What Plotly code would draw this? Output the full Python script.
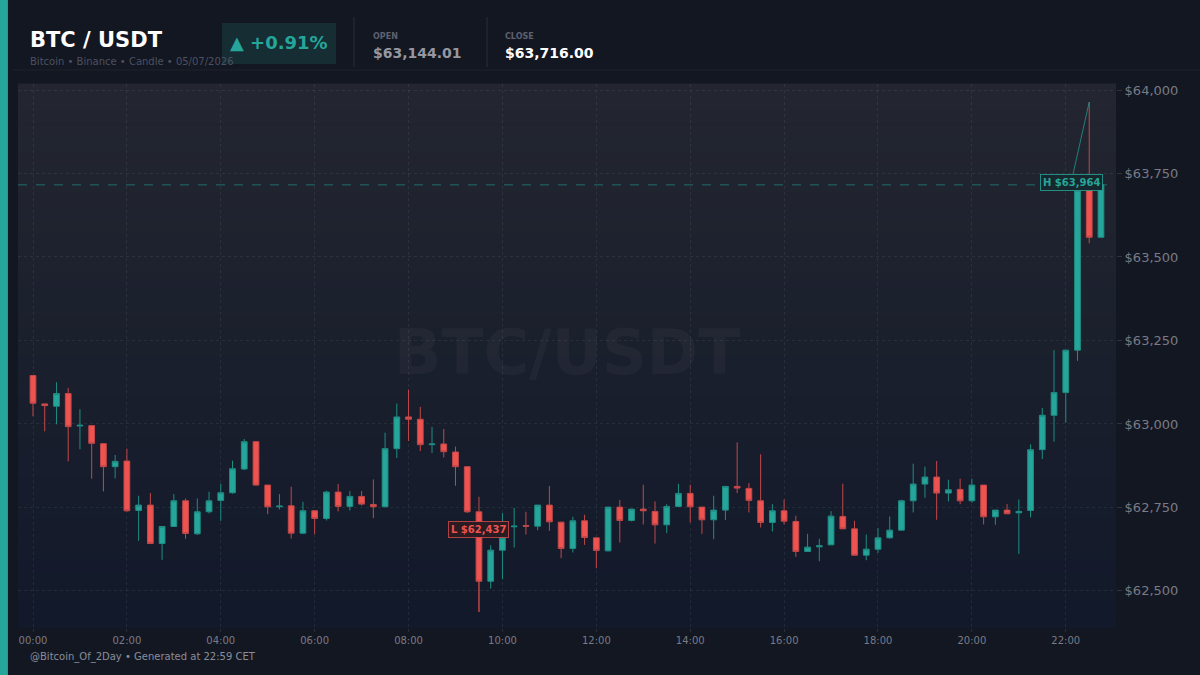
import plotly.graph_objects as go
import pandas as pd

# ---- data (15-minute candles, 05/07/2026) ----
opens = [63145, 63060, 63053, 63091, 62994, 62995, 62941, 62872, 62889, 62741, 62757, 62642,
         62693, 62770, 62671, 62737, 62771, 62794, 62865, 62947, 62817, 62752, 62755, 62673,
         62740, 62717, 62796, 62753, 62783, 62759, 62752, 62926, 63021, 63014, 62938, 62940,
         62916, 62872, 62737, 62529, 62622, 62692, 62696, 62694, 62757, 62706, 62627, 62710,
         62659, 62620, 62751, 62711, 62745, 62738, 62698, 62753, 62792, 62751, 62713, 62742,
         62813, 62807, 62770, 62705, 62740, 62708, 62618, 62632, 62638, 62723, 62686, 62607,
         62625, 62659, 62682, 62770, 62820, 62841, 62793, 62804, 62770, 62817, 62722, 62742,
         62734, 62741, 62923, 63026, 63094, 63221, 63700, 63559]
highs = [63145, 63060, 63125, 63108, 63044, 62995, 62941, 62907, 62926, 62785, 62793, 62693,
         62790, 62777, 62777, 62797, 62821, 62890, 62955, 62947, 62817, 62790, 62812, 62767,
         62740, 62800, 62820, 62799, 62799, 62834, 62974, 63061, 63103, 63051, 62991, 62985,
         62932, 62872, 62782, 62637, 62733, 62749, 62737, 62757, 62814, 62706, 62722, 62728,
         62659, 62751, 62772, 62745, 62818, 62768, 62760, 62821, 62818, 62751, 62785, 62813,
         62945, 62823, 62909, 62760, 62774, 62725, 62671, 62656, 62739, 62821, 62710, 62669,
         62688, 62723, 62773, 62881, 62872, 62889, 62833, 62836, 62836, 62817, 62742, 62760,
         62774, 62939, 63048, 63221, 63221, 63700, 63964, 63716]
lows = [63023, 62978, 62999, 62888, 62924, 62836, 62798, 62837, 62737, 62650, 62640, 62593,
        62693, 62656, 62668, 62732, 62710, 62791, 62862, 62815, 62730, 62744, 62657, 62670,
        62670, 62711, 62738, 62741, 62756, 62718, 62752, 62898, 62949, 62919, 62913, 62900,
        62815, 62733, 62437, 62507, 62535, 62630, 62669, 62682, 62680, 62598, 62615, 62638,
        62568, 62618, 62645, 62708, 62699, 62642, 62673, 62752, 62705, 62671, 62655, 62712,
        62793, 62735, 62690, 62678, 62699, 62602, 62618, 62589, 62638, 62686, 62607, 62592,
        62614, 62656, 62682, 62735, 62779, 62713, 62768, 62760, 62764, 62699, 62698, 62731,
        62611, 62720, 62895, 62947, 63004, 63189, 63541, 63559]
closes = [63062, 63055, 63091, 62992, 62996, 62942, 62872, 62888, 62740, 62757, 62642, 62693,
          62770, 62672, 62737, 62770, 62794, 62866, 62947, 62817, 62752, 62754, 62673, 62740,
          62717, 62796, 62753, 62783, 62760, 62752, 62926, 63021, 63014, 62938, 62940, 62917,
          62872, 62737, 62529, 62622, 62659, 62694, 62694, 62757, 62707, 62627, 62710, 62660,
          62621, 62751, 62711, 62745, 62740, 62698, 62753, 62792, 62752, 62713, 62742, 62813,
          62808, 62771, 62705, 62740, 62709, 62618, 62631, 62635, 62724, 62686, 62607, 62625,
          62659, 62682, 62770, 62820, 62841, 62793, 62803, 62770, 62817, 62722, 62742, 62731,
          62738, 62923, 63026, 63094, 63221, 63700, 63559, 63716]
times = pd.date_range("2026-05-07 00:00", periods=len(opens), freq="15min")

y_ticks = [62500, 62750, 63000, 63250, 63500, 63750, 64000]
y_tick_labels = ["$62,500", "$62,750", "$63,000", "$63,250", "$63,500", "$63,750", "$64,000"]
x_ticks = pd.date_range("2026-05-07 00:00", "2026-05-07 22:00", freq="2h")
x_tick_labels = [t.strftime("%H:%M") for t in x_ticks]

open_price = "$63,144.01"
close_price = "$63,716.00"
last_close = 63716.00
change_text = "▲ +0.91%"
low_val = 62437
high_val = 63964
i_low = lows.index(min(lows))
i_high = highs.index(max(highs))

UP = "#26a69a"
DN = "#ef5350"
BG = "#131722"
GRID = "rgba(255,255,255,0.07)"
MUTED = "#787b86"
FONT = "DejaVu Sans"

fig = go.Figure()
fig.add_trace(go.Candlestick(
    x=times, open=opens, high=highs, low=lows, close=closes,
    increasing=dict(line=dict(color="#1f8d83", width=1), fillcolor=UP),
    decreasing=dict(line=dict(color="#c2484a", width=1), fillcolor=DN),
    whiskerwidth=0, showlegend=False, hoverinfo="skip",
))

shapes = []
# gradient plot background
n = 40
top = (0x23, 0x26, 0x30)
bot = (0x12, 0x19, 0x2a)
for k in range(n):
    f = k / (n - 1)
    c = tuple(round(top[j] + (bot[j] - top[j]) * f) for j in range(3))
    shapes.append(dict(type="rect", xref="x domain", yref="y domain",
                       x0=0, x1=1, y0=1 - (k + 1) / n, y1=1 - k / n + 0.001,
                       fillcolor="rgb(%d,%d,%d)" % c, line=dict(width=0), layer="below"))
# left accent bar
shapes.append(dict(type="rect", xref="paper", yref="paper", x0=-0.1, x1=7 / 1200 - 18 / 1200,
                   y0=-1, y1=2, fillcolor=UP, line=dict(width=0), layer="above"))
# header divider
shapes.append(dict(type="line", xref="paper", yref="paper",
                   x0=-5 / 1098, x1=1.2, y0=1 + 14 / 544, y1=1 + 14 / 544,
                   line=dict(color="rgba(255,255,255,0.05)", width=1)))
# header separators
for xp in (354, 487):
    xx = (xp - 18) / 1098
    shapes.append(dict(type="line", xref="paper", yref="paper", x0=xx, x1=xx,
                       y0=1 + (84 - 67) / 544, y1=1 + (84 - 17) / 544,
                       line=dict(color="rgba(255,255,255,0.10)", width=1)))
# change badge
shapes.append(dict(type="rect", xref="paper", yref="paper",
                   x0=(222 - 18) / 1098, x1=(336 - 18) / 1098,
                   y0=1 + (84 - 64) / 544, y1=1 + (84 - 23) / 544,
                   fillcolor="#152d33", line=dict(width=0)))
# last close line
shapes.append(dict(type="line", xref="x domain", yref="y", x0=0, x1=1, y0=last_close, y1=last_close,
                   line=dict(color="rgba(38,166,154,0.55)", width=1, dash="dash")))
fig.update_layout(shapes=shapes)

def ptx(px):
    return (px - 18) / 1098

def pty(py):
    return 1 - (py - 84) / 544

ann = []
ann.append(dict(text="<b>BTC / USDT</b>", x=ptx(28), y=pty(40), xref="paper", yref="paper",
                xanchor="left", yanchor="middle", showarrow=False,
                font=dict(family=FONT, size=21, color="#ffffff")))
ann.append(dict(text="Bitcoin • Binance • Candle • 05/07/2026", x=ptx(28), y=pty(61),
                xref="paper", yref="paper", xanchor="left", yanchor="middle", showarrow=False,
                font=dict(family=FONT, size=10, color="#4c5160")))
ann.append(dict(text="<b>" + change_text + "</b>", x=ptx(279), y=pty(42), xref="paper", yref="paper",
                xanchor="center", yanchor="middle", showarrow=False,
                font=dict(family=FONT, size=18, color=UP)))
ann.append(dict(text="<b>OPEN</b>", x=ptx(371), y=pty(37), xref="paper", yref="paper",
                xanchor="left", yanchor="middle", showarrow=False,
                font=dict(family=FONT, size=8, color="#5d6170")))
ann.append(dict(text="<b>" + open_price + "</b>", x=ptx(371), y=pty(53), xref="paper", yref="paper",
                xanchor="left", yanchor="middle", showarrow=False,
                font=dict(family=FONT, size=14, color="#9598a1")))
ann.append(dict(text="<b>CLOSE</b>", x=ptx(503), y=pty(37), xref="paper", yref="paper",
                xanchor="left", yanchor="middle", showarrow=False,
                font=dict(family=FONT, size=8, color="#5d6170")))
ann.append(dict(text="<b>" + close_price + "</b>", x=ptx(503), y=pty(53), xref="paper", yref="paper",
                xanchor="left", yanchor="middle", showarrow=False,
                font=dict(family=FONT, size=14, color="#ffffff")))
ann.append(dict(text="@Bitcoin_Of_2Day • Generated at 22:59 CET", x=ptx(28), y=pty(657),
                xref="paper", yref="paper", xanchor="left", yanchor="middle", showarrow=False,
                font=dict(family=FONT, size=10, color="#8a8e99")))
# watermark
ann.append(dict(text="<b>BTC/USDT</b>", x=ptx(567), y=pty(352), xref="paper", yref="paper",
                xanchor="center", yanchor="middle", showarrow=False,
                font=dict(family=FONT, size=62, color="rgba(255,255,255,0.035)")))
# high / low labels
ann.append(dict(text="<b>H $%s</b>" % format(high_val, ","), x=times[i_high], y=highs[i_high],
                xref="x", yref="y", showarrow=True, arrowhead=0, arrowwidth=1,
                arrowcolor="rgba(38,166,154,0.7)", ax=-18, ay=80,
                font=dict(family=FONT, size=10, color=UP), bgcolor="#16282e",
                bordercolor="rgba(38,166,154,0.8)", borderwidth=1, borderpad=2))
ann.append(dict(text="<b>L $%s</b>" % format(low_val, ","), x=times[i_low], y=lows[i_low],
                xref="x", yref="y", showarrow=True, arrowhead=0, arrowwidth=1,
                arrowcolor="rgba(239,83,80,0.6)", ax=0, ay=-82,
                font=dict(family=FONT, size=10, color=DN), bgcolor="#2a1c22",
                bordercolor="rgba(239,83,80,0.7)", borderwidth=1, borderpad=2))
fig.update_layout(annotations=ann)

fig.update_layout(
    width=1200, height=675,
    margin=dict(l=18, r=84, t=84, b=47),
    paper_bgcolor=BG, plot_bgcolor="#1a1e2a",
    font=dict(family=FONT, color=MUTED),
    xaxis=dict(
        type="date", rangeslider=dict(visible=False),
        range=[pd.Timestamp("2026-05-06 23:40:50"), pd.Timestamp("2026-05-07 23:04:12")],
        tickvals=x_ticks, ticktext=x_tick_labels,
        tickfont=dict(size=10, color=MUTED),
        showgrid=True, gridcolor=GRID, griddash="dot", gridwidth=1,
        ticks="outside", ticklen=3, tickcolor="rgba(255,255,255,0.10)",
        zeroline=False, showline=False,
    ),
    yaxis=dict(
        side="right", range=[62389, 64018],
        tickvals=y_ticks, ticktext=y_tick_labels,
        tickfont=dict(size=13, color=MUTED),
        showgrid=True, gridcolor=GRID, griddash="dot", gridwidth=1,
        ticks="outside", ticklen=5, tickcolor="rgba(255,255,255,0.12)",
        zeroline=False, showline=False,
    ),
    hovermode=False,
)

fig.write_html("out.html")
